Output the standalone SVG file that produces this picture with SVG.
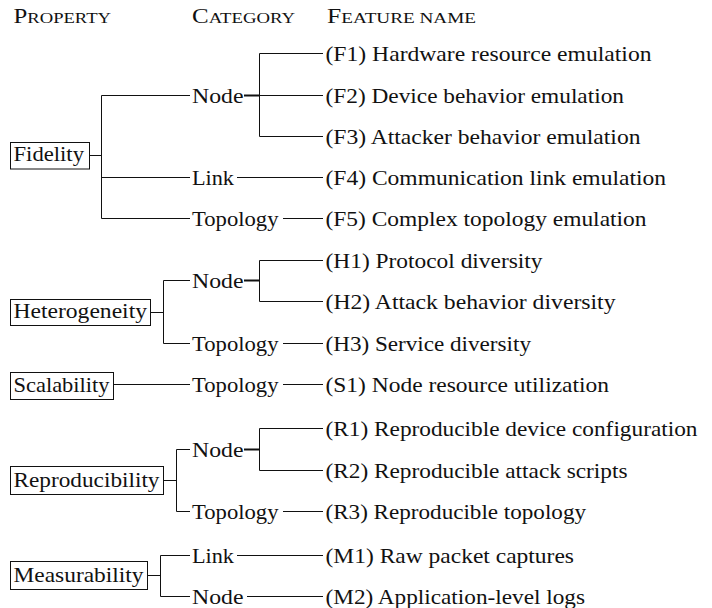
<svg xmlns="http://www.w3.org/2000/svg" width="712" height="608" viewBox="0 0 712 608" font-family="Liberation Serif, serif">
<style>
  text { font-size: 21px; fill: #111; }
  .hdr { font-size: 20px; }
  .sc { font-size: 15px; }
  .box { fill: #fff; stroke: #111; stroke-width: 1; }
  .ln { fill: none; stroke: #111; stroke-width: 1; }
  .tk { fill: none; stroke: #111; stroke-width: 2; }
</style>
<rect width="712" height="608" fill="#fff"/>

<g id="headers">
  <text class="hdr" x="13.5" y="22.5" textLength="97.5" lengthAdjust="spacingAndGlyphs">P<tspan class="sc">ROPERTY</tspan></text>
  <text class="hdr" x="192" y="22.5" textLength="103" lengthAdjust="spacingAndGlyphs">C<tspan class="sc">ATEGORY</tspan></text>
  <text class="hdr" x="327" y="22.5" textLength="149" lengthAdjust="spacingAndGlyphs">F<tspan class="sc">EATURE NAME</tspan></text>
</g>

<g id="connectors">
  <path class="ln" d="M89.5 155.5H101.5M101.5 95.5V218.5M101.5 95.5H190M101.5 177.5H190M101.5 218.5H190"/>
  <path class="tk" d="M244 95.5H259.5"/>
  <path class="ln" d="M259.5 53.5V136.5M259.5 53.5H323M259.5 95.5H323M259.5 136.5H323"/>
  <path class="ln" d="M237 177.5H323M283 218.5H323"/>
  <path class="ln" d="M150.5 312.5H163.5M163.5 280.5V343.5M163.5 280.5H190M163.5 343.5H190"/>
  <path class="tk" d="M244 280.5H259.5"/>
  <path class="ln" d="M259.5 260.5V301.5M259.5 260.5H323M259.5 301.5H323M283 343.5H323"/>
  <path class="ln" d="M113.5 384.5H190M283 384.5H323"/>
  <path class="ln" d="M163.5 480.5H176.5M176.5 449.5V511.5M176.5 449.5H190M176.5 511.5H190"/>
  <path class="tk" d="M244 449.5H259.5"/>
  <path class="ln" d="M259.5 428.5V470.5M259.5 428.5H323M259.5 470.5H323M283 511.5H323"/>
  <path class="ln" d="M147.5 575.5H160.5M160.5 555.5V596.5M160.5 555.5H190M160.5 596.5H190"/>
  <path class="ln" d="M237 555.5H323M247 596.5H323"/>
</g>

<g id="fidelity">
  <rect class="box" x="10.5" y="142.5" width="79" height="26.5"/>
  <text x="13.5" y="161" textLength="70.5" lengthAdjust="spacingAndGlyphs">Fidelity</text>
</g>
<g id="fidelity-node"><text x="192" y="102.5" textLength="51.5" lengthAdjust="spacingAndGlyphs">Node</text></g>
<g id="fidelity-link"><text x="192" y="184.5" textLength="42" lengthAdjust="spacingAndGlyphs">Link</text></g>
<g id="fidelity-topology"><text x="192" y="225.5" textLength="86.5" lengthAdjust="spacingAndGlyphs">Topology</text></g>
<g id="f1"><text x="325.5" y="60.5" textLength="326" lengthAdjust="spacingAndGlyphs">(F1) Hardware resource emulation</text></g>
<g id="f2"><text x="325.5" y="102.5" textLength="298.5" lengthAdjust="spacingAndGlyphs">(F2) Device behavior emulation</text></g>
<g id="f3"><text x="325.5" y="143.5" textLength="315" lengthAdjust="spacingAndGlyphs">(F3) Attacker behavior emulation</text></g>
<g id="f4"><text x="325.5" y="184.5" textLength="340.5" lengthAdjust="spacingAndGlyphs">(F4) Communication link emulation</text></g>
<g id="f5"><text x="325.5" y="225.5" textLength="321" lengthAdjust="spacingAndGlyphs">(F5) Complex topology emulation</text></g>

<g id="heterogeneity">
  <rect class="box" x="10.5" y="299.5" width="140" height="26"/>
  <text x="13.5" y="318" textLength="133.5" lengthAdjust="spacingAndGlyphs">Heterogeneity</text>
</g>
<g id="heterogeneity-node"><text x="192" y="287.5" textLength="51.5" lengthAdjust="spacingAndGlyphs">Node</text></g>
<g id="heterogeneity-topology"><text x="192" y="350.5" textLength="86.5" lengthAdjust="spacingAndGlyphs">Topology</text></g>
<g id="h1"><text x="325.5" y="267.5" textLength="217" lengthAdjust="spacingAndGlyphs">(H1) Protocol diversity</text></g>
<g id="h2"><text x="325.5" y="308.5" textLength="290" lengthAdjust="spacingAndGlyphs">(H2) Attack behavior diversity</text></g>
<g id="h3"><text x="325.5" y="350.5" textLength="205.5" lengthAdjust="spacingAndGlyphs">(H3) Service diversity</text></g>

<g id="scalability">
  <rect class="box" x="10.5" y="372.5" width="103" height="27"/>
  <text x="13.5" y="391.5" textLength="96" lengthAdjust="spacingAndGlyphs">Scalability</text>
</g>
<g id="scalability-topology"><text x="192" y="391.5" textLength="86.5" lengthAdjust="spacingAndGlyphs">Topology</text></g>
<g id="s1"><text x="325.5" y="391.5" textLength="283.5" lengthAdjust="spacingAndGlyphs">(S1) Node resource utilization</text></g>

<g id="reproducibility">
  <rect class="box" x="10.5" y="466.5" width="153" height="28"/>
  <text x="13.5" y="486.5" textLength="146" lengthAdjust="spacingAndGlyphs">Reproducibility</text>
</g>
<g id="reproducibility-node"><text x="192" y="456.5" textLength="51.5" lengthAdjust="spacingAndGlyphs">Node</text></g>
<g id="reproducibility-topology"><text x="192" y="518.5" textLength="86.5" lengthAdjust="spacingAndGlyphs">Topology</text></g>
<g id="r1"><text x="325.5" y="435.5" textLength="372" lengthAdjust="spacingAndGlyphs">(R1) Reproducible device configuration</text></g>
<g id="r2"><text x="325.5" y="477.5" textLength="302" lengthAdjust="spacingAndGlyphs">(R2) Reproducible attack scripts</text></g>
<g id="r3"><text x="325.5" y="518.5" textLength="260.5" lengthAdjust="spacingAndGlyphs">(R3) Reproducible topology</text></g>

<g id="measurability">
  <rect class="box" x="10.5" y="561.5" width="137" height="28"/>
  <text x="13.5" y="581.5" textLength="130" lengthAdjust="spacingAndGlyphs">Measurability</text>
</g>
<g id="measurability-link"><text x="192" y="562.5" textLength="42" lengthAdjust="spacingAndGlyphs">Link</text></g>
<g id="measurability-node"><text x="192" y="603.5" textLength="51.5" lengthAdjust="spacingAndGlyphs">Node</text></g>
<g id="m1"><text x="325.5" y="562.5" textLength="248.5" lengthAdjust="spacingAndGlyphs">(M1) Raw packet captures</text></g>
<g id="m2"><text x="325.5" y="603.5" textLength="259.5" lengthAdjust="spacingAndGlyphs">(M2) Application-level logs</text></g>
</svg>
